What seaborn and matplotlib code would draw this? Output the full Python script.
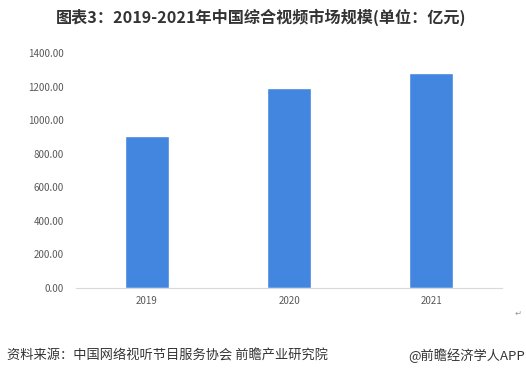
import pandas as pd
import matplotlib.pyplot as plt
import seaborn as sns

# данные: рынок комплексного видео в Китае, 2019-2021 (亿元)
years = ['2019', '2020', '2021']
market = [905, 1190, 1280]
yticks = [0, 200, 400, 600, 800, 1000, 1200, 1400]

df = pd.DataFrame({'year': years, 'value': market})

sns.set_style('white')
plt.rcParams['font.family'] = ['Noto Sans CJK SC', 'DejaVu Sans']

fig = plt.figure(figsize=(5.26, 3.76), dpi=100)
ax = fig.add_axes([0.1445, 0.234, 0.81, 0.625])

sns.barplot(data=df, x='year', y='value', color='#4286DF', width=0.31,
            saturation=1, ax=ax)

ax.set_xlim(-0.5, 2.5)
ax.set_ylim(0, 1400)
ax.set_yticks(yticks)
ax.set_yticklabels([f'{v:.2f}' for v in yticks])
ax.set_xlabel('')
ax.set_ylabel('')
ax.tick_params(axis='both', labelsize=7, colors='#595959', length=0)
ax.tick_params(axis='y', pad=9)
ax.tick_params(axis='x', pad=6)

for s in ['top', 'right', 'left']:
    ax.spines[s].set_visible(False)
ax.spines['bottom'].set_color('#D9D9D9')
ax.spines['bottom'].set_linewidth(0.8)

fig.text(0.496, 0.955, '图表3：2019-2021年中国综合视频市场规模(单位：亿元)',
         ha='center', va='center', fontsize=11.6, fontweight='bold', color='#333333')
fig.text(0.013, 0.053, '资料来源：中国网络视听节目服务协会 前瞻产业研究院',
         ha='left', va='center', fontsize=9.5, color='#333333')
fig.text(0.999, 0.053, '@前瞻经济学人APP',
         ha='right', va='center', fontsize=9.5, color='#333333')
fig.text(0.985, 0.167, '↵', ha='center', va='center', fontsize=6, color='#999999')

plt.savefig('out.png', dpi=100)
